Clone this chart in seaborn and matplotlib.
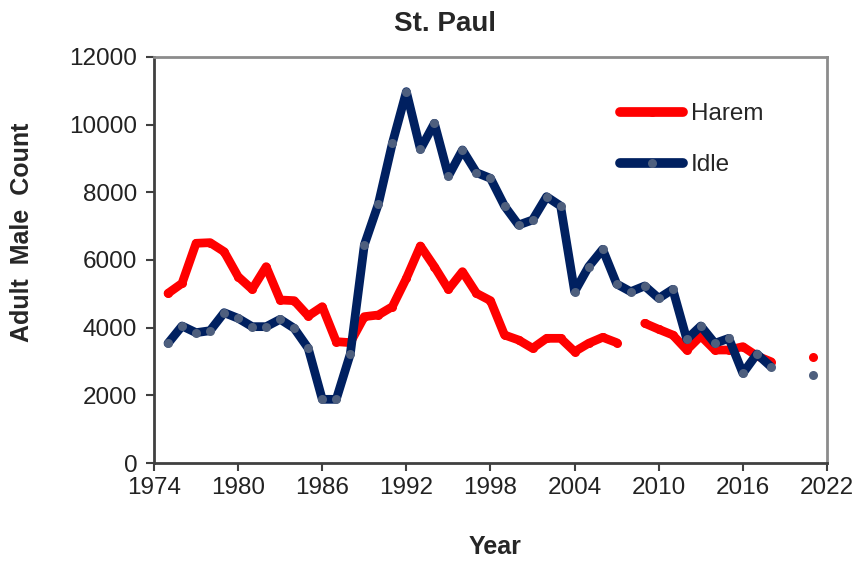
import numpy as np
import pandas as pd
import matplotlib
matplotlib.use("Agg")
import matplotlib.pyplot as plt
from matplotlib.lines import Line2D
import seaborn as sns

# St. Paul adult male counts; NaN = no survey
years = list(range(1975, 2019)) + [2021]
harem = [5015, 5311, 6494, 6513, 6247, 5508, 5134, 5803, 4818, 4798,
         4345, 4621, 3587, 3557, 4325, 4375, 4621, 5459, 6414, 5803,
         5134, 5655, 5015, 4798, 3783, 3636, 3390, 3685, 3685, 3291,
         3538, 3715, 3557, np.nan, 4129, 3951, 3783, 3340, 3754, 3340,
         3340, 3439, 3163, 2995, 3143]
idle = [3538, 4050, 3852, 3911, 4443, 4277, 4030, 4030, 4247, 3981,
        3390, 1882, 1882, 3222, 6444, 7656, 9450, 10976, 9273, 10041,
        8484, 9252, 8582, 8415, 7597, 7035, 7183, 7872, 7597, 5064,
        5803, 6316, 5291, 5064, 5232, 4868, 5134, 3656, 4050, 3538,
        3685, 2651, 3222, 2847, 2601]
series_names = ["Harem", "Idle"]
x_ticks = [1974, 1980, 1986, 1992, 1998, 2004, 2010, 2016, 2022]
y_ticks = [0, 2000, 4000, 6000, 8000, 10000, 12000]

df = pd.DataFrame({"Year": years, "Harem": harem, "Idle": idle})
df = df.melt(id_vars="Year", var_name="series", value_name="count")


def add_segments(d):
    # break the line wherever a year is missing or a value is NaN
    d = d.dropna().sort_values("Year").copy()
    d["segment"] = (d["Year"].diff() != 1).cumsum()
    return d


sns.set_style("white")
plt.rcParams["font.family"] = ["Liberation Sans", "DejaVu Sans"]

W, H = 861, 567
fig, ax = plt.subplots(figsize=(W/100, H/100), dpi=100)
fig.subplots_adjust(left=154/W, right=827/W, top=1-57/H, bottom=1-463/H)

styles = {
    "Harem": dict(color="#FF0000", mfc="#FF0000"),
    "Idle": dict(color="#002060", mfc="#4E5F7E"),
}
for name in series_names:
    sub = add_segments(df[df["series"] == name])
    st = styles[name]
    sns.lineplot(data=sub, x="Year", y="count", units="segment", estimator=None,
                 color=st["color"], lw=6.3, marker="o", markersize=6.5,
                 markerfacecolor=st["mfc"], markeredgecolor=st["mfc"],
                 markeredgewidth=0, ax=ax, legend=False, solid_capstyle="round")

ax.set_xlim(1974, 2022)
ax.set_ylim(0, 12000)
ax.set_xticks(x_ticks)
ax.set_yticks(y_ticks)
ax.tick_params(axis="both", labelsize=17.5, direction="out", length=6, width=1.5,
               color="#404040", labelcolor="#222222", bottom=True, left=True)
ax.tick_params(axis="x", pad=4)
ax.tick_params(axis="y", pad=6)

for side in ["left", "bottom"]:
    ax.spines[side].set_color("#404040")
    ax.spines[side].set_linewidth(2)
for side in ["top", "right"]:
    ax.spines[side].set_color("#8C8C8C")
    ax.spines[side].set_linewidth(2)

ax.set_xlabel("")
ax.set_ylabel("")
fig.text(495/W, 1-547/H, "Year", fontsize=18, fontweight="bold",
         ha="center", va="center")
fig.text(22/W, 1-232/H, "Adult  Male  Count", fontsize=18, fontweight="bold",
         rotation=90, ha="center", va="center")
fig.text(445/W, 1-24/H, "St. Paul", fontsize=20, fontweight="bold",
         ha="center", va="center")

handles = [
    Line2D([], [], color="#FF0000", lw=7, solid_capstyle="round",
           marker="o", markersize=6.5, markerfacecolor="#FF0000", markeredgewidth=0),
    Line2D([], [], color="#002060", lw=7, solid_capstyle="round",
           marker="o", markersize=6.5, markerfacecolor="#4E5F7E", markeredgewidth=0),
]
leg = ax.legend(handles, series_names, loc="upper left",
                bbox_to_anchor=((620-154)/673, 1-46/406), frameon=False,
                fontsize=17.5, handlelength=2.6, handletextpad=0.33,
                labelspacing=1.2, borderpad=0, borderaxespad=0)

fig.savefig("out.png", dpi=100)
